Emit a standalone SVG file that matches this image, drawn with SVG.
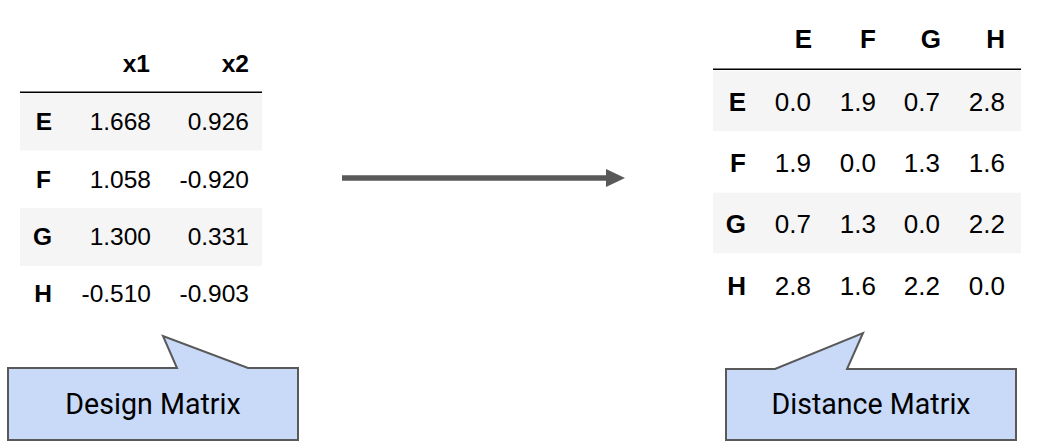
<svg xmlns="http://www.w3.org/2000/svg" width="1049" height="448" viewBox="0 0 1049 448">
<style>
.bg{fill:#f5f5f5}
.rule{stroke:#000;stroke-width:1.5}
.h{font-family:"Liberation Sans",Arial,sans-serif;font-weight:bold;fill:#000;text-anchor:end}
.n{font-family:"Liberation Sans",Arial,sans-serif;fill:#000;text-anchor:end}
.l{font-size:24.5px}
.r{font-size:26px}
.call{fill:#c9daf8;stroke:#595959;stroke-width:2;stroke-linejoin:miter}
.ct{font-family:Roboto,"Liberation Sans",sans-serif;font-size:28.6px;fill:#000;text-anchor:middle}
.conn{stroke:#595959;stroke-width:5.5;fill:none}
</style>
<defs>
<marker id="ah" viewBox="0 0 19 18" refX="0" refY="9" markerWidth="19" markerHeight="18" markerUnits="userSpaceOnUse" orient="auto">
<polygon points="0,0 19,9 0,18" fill="#595959"/>
</marker>
</defs>
<rect width="1049" height="448" fill="#fff"/>

<g id="design-matrix-table">
<rect class="bg" x="20" y="93" width="242" height="57.5"/>
<rect class="bg" x="20" y="208" width="242" height="58"/>
<line class="rule" x1="20" y1="92.3" x2="262" y2="92.3"/>
<text class="h l" x="150" y="72.3">x1</text>
<text class="h l" x="249" y="72.3">x2</text>
<text class="h l" x="52" y="130">E</text>
<text class="n l" x="151" y="130">1.668</text>
<text class="n l" x="249" y="130">0.926</text>
<text class="h l" x="51" y="187.7">F</text>
<text class="n l" x="151" y="187.7">1.058</text>
<text class="n l" x="249" y="187.7">-0.920</text>
<text class="h l" x="52" y="244.5">G</text>
<text class="n l" x="151" y="244.5">1.300</text>
<text class="n l" x="249" y="244.5">0.331</text>
<text class="h l" x="52" y="301.7">H</text>
<text class="n l" x="151" y="301.7">-0.510</text>
<text class="n l" x="249" y="301.7">-0.903</text>
</g>

<g id="distance-matrix-table">
<rect class="bg" x="713" y="71" width="308" height="60"/>
<rect class="bg" x="713" y="192.7" width="308" height="60.6"/>
<line class="rule" x1="713" y1="69.3" x2="1021" y2="69.3"/>
<text class="h r" x="812" y="48.3">E</text>
<text class="h r" x="876" y="48.3">F</text>
<text class="h r" x="941" y="48.3">G</text>
<text class="h r" x="1005" y="48.3">H</text>
<text class="h r" x="746" y="111">E</text>
<text class="n r" x="811" y="111">0.0</text>
<text class="n r" x="876" y="111">1.9</text>
<text class="n r" x="940" y="111">0.7</text>
<text class="n r" x="1005" y="111">2.8</text>
<text class="h r" x="746" y="171.7">F</text>
<text class="n r" x="811" y="171.7">1.9</text>
<text class="n r" x="876" y="171.7">0.0</text>
<text class="n r" x="940" y="171.7">1.3</text>
<text class="n r" x="1005" y="171.7">1.6</text>
<text class="h r" x="746" y="232.7">G</text>
<text class="n r" x="811" y="232.7">0.7</text>
<text class="n r" x="876" y="232.7">1.3</text>
<text class="n r" x="940" y="232.7">0.0</text>
<text class="n r" x="1005" y="232.7">2.2</text>
<text class="h r" x="746" y="295">H</text>
<text class="n r" x="811" y="295">2.8</text>
<text class="n r" x="876" y="295">1.6</text>
<text class="n r" x="940" y="295">2.2</text>
<text class="n r" x="1005" y="295">0.0</text>
</g>

<g id="connectors">
<line class="conn" x1="342" y1="178" x2="606" y2="178" marker-end="url(#ah)"/>
</g>

<g id="design-matrix-callout">
<path class="call" d="M8,368 L177,368 L163,336 L248,368 L298,368 L298,440 L8,440 Z"/>
<text class="ct" x="153" y="414">Design Matrix</text>
</g>

<g id="distance-matrix-callout">
<path class="call" d="M726,369 L775,369 L863,333 L847,369 L1016,369 L1016,440 L726,440 Z"/>
<text class="ct" x="871" y="414">Distance Matrix</text>
</g>
</svg>
